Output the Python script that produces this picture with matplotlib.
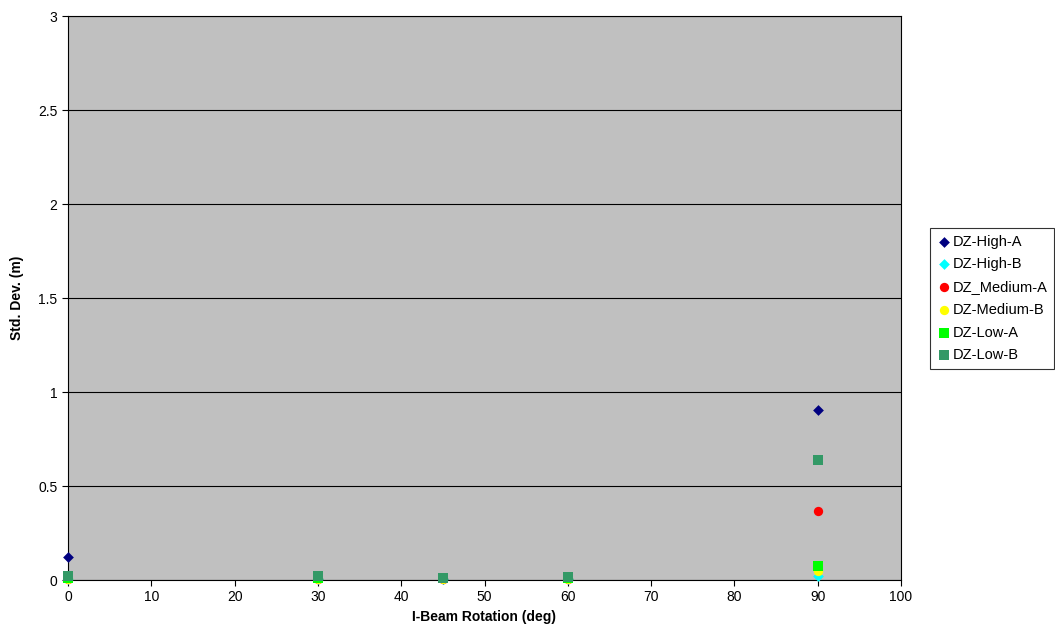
import numpy as np
import matplotlib.pyplot as plt

plt.rcParams['font.family'] = ['Liberation Sans', 'DejaVu Sans']

rotation = [0, 30, 45, 60, 90]

high_a = [0.122, 0.005, 0.004, 0.004, 0.904]
high_b = [0.003, 0.003, 0.003, 0.003, 0.020]
medium_a = [0.004, 0.004, 0.004, 0.004, 0.367]
medium_b = [0.004, 0.004, 0.004, 0.004, 0.048]
low_a = [0.008, 0.008, 0.010, 0.008, 0.074]
low_b = [0.020, 0.020, 0.012, 0.015, 0.638]

series = [
    ("DZ-High-A", high_a, "#000080", "D", 30),
    ("DZ-High-B", high_b, "#00FFFF", "D", 30),
    ("DZ_Medium-A", medium_a, "#FF0000", "o", 45),
    ("DZ-Medium-B", medium_b, "#FFFF00", "o", 45),
    ("DZ-Low-A", low_a, "#00FF00", "s", 45),
    ("DZ-Low-B", low_b, "#339966", "s", 45),
]

fig = plt.figure(figsize=(10.55, 6.44), dpi=100)
ax = fig.add_axes([68/1055, 1 - 580/644, (901-68)/1055, (580-16)/644])
ax.set_facecolor('#C0C0C0')

for name, vals, col, mk, sz in series:
    ax.scatter(rotation, vals, s=sz, marker=mk, color=col, label=name,
               linewidths=0, zorder=3, clip_on=False)

ax.set_xlim(0, 100)
ax.set_ylim(0, 3)
ax.set_xticks(np.arange(0, 101, 10))
ax.set_yticks(np.arange(0, 3.01, 0.5))
ax.set_yticklabels(['0', '0.5', '1', '1.5', '2', '2.5', '3'])
ax.yaxis.grid(True, color='black', linewidth=0.8)
ax.set_axisbelow(True)
for s in ax.spines.values():
    s.set_color('black')
    s.set_linewidth(0.8)
ax.tick_params(axis='both', labelsize=10, direction='out', length=4)

ax.set_xlabel('I-Beam Rotation (deg)', fontsize=10, fontweight='bold', labelpad=4)
ax.set_ylabel('Std. Dev. (m)', fontsize=10, fontweight='bold', labelpad=10)

leg = ax.legend(loc='upper left', bbox_to_anchor=(930/1055, 1 - 228/644),
                bbox_transform=fig.transFigure, frameon=True, fancybox=False,
                edgecolor='black', fontsize=10.5, handletextpad=0.1,
                handlelength=1.0, borderpad=0.45, labelspacing=0.6,
                borderaxespad=0, scatterpoints=1)
leg.get_frame().set_linewidth(0.8)

fig.savefig('out.png', dpi=100)
